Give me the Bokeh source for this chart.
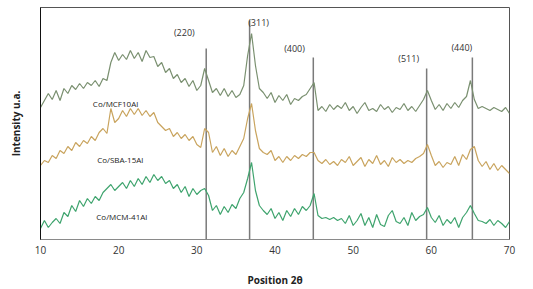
import numpy as np
from bokeh.plotting import figure
from bokeh.models import Range1d, FixedTicker
from bokeh.core.properties import value
from bokeh.embed import file_html
from bokeh.resources import INLINE

two_theta = np.arange(10.0, 70.01, 0.5)

mcf = [132, 139, 146, 140, 149, 139, 151, 146, 154, 150,
       156, 151, 157, 154, 159, 153, 161, 159, 177, 187,
       179, 185, 180, 189, 181, 187, 178, 189, 182, 183,
       173, 177, 167, 171, 161, 165, 157, 161, 153, 159,
       149, 154, 171, 159, 147, 151, 144, 151, 143, 149,
       142, 145, 154, 184, 206, 174, 151, 147, 141, 147,
       137, 144, 139, 145, 135, 141, 139, 143, 145, 151,
       157, 129, 133, 128, 135, 130, 134, 131, 137, 129,
       133, 126, 132, 137, 129, 131, 128, 135, 130, 133,
       127, 132, 130, 136, 129, 133, 128, 134, 140, 149,
       139, 130, 135, 129, 136, 131, 137, 132, 139, 143,
       159, 140, 131, 133, 131, 129, 132, 130, 128, 132,
       126]

sba = [74, 79, 77, 84, 81, 89, 86, 93, 89, 97,
       93, 99, 96, 103, 99, 107, 111, 106, 131, 117,
       121, 129, 123, 131, 125, 131, 124, 129, 123, 127,
       117, 113, 109, 111, 103, 107, 101, 105, 99, 103,
       95, 92, 111, 107, 87, 93, 84, 91, 83, 89,
       85, 93, 101, 121, 136, 109, 91, 87, 85, 89,
       79, 83, 77, 83, 79, 84, 81, 85, 83, 87,
       87, 79, 76, 80, 75, 78, 74, 80, 77, 83,
       74, 78, 82, 73, 80, 76, 84, 75, 79, 73,
       82, 77, 80, 76, 79, 77, 81, 83, 86, 95,
       84, 74, 78, 72, 77, 75, 83, 74, 85, 80,
       90, 93, 79, 73, 78, 70, 76, 69, 74, 70,
       66]

mcm = [11, 19, 12, 17, 21, 16, 27, 23, 34, 28,
       39, 33, 41, 36, 43, 39, 47, 51, 55, 49,
       53, 57, 51, 59, 53, 61, 55, 63, 57, 65,
       59, 63, 56, 59, 51, 55, 47, 53, 43, 51,
       45, 49, 51, 44, 29, 34, 25, 33, 27, 35,
       31, 41, 47, 61, 77, 49, 34, 29, 25, 31,
       21, 27, 19, 29, 23, 31, 25, 33, 29, 34,
       46, 24, 21, 22, 20, 22, 19, 21, 16, 24,
       14, 19, 26, 14, 22, 12, 25, 15, 13, 24,
       29, 18, 16, 22, 14, 27, 19, 23, 25, 32,
       22, 17, 24, 14, 20, 16, 22, 12, 22, 27,
       34, 26, 19, 18, 16, 20, 14, 19, 16, 12,
       18]

series_names = ["Co/MCF10Al", "Co/SBA-15Al", "Co/MCM-41Al"]
series_colors = ["#7a9070", "#c9a45e", "#3fa46e"]
name_x = [19.6, 20.2, 20.4]
name_y = [136, 80, 23]

peak_labels = ["(220)", "(311)", "(400)", "(511)", "(440)"]
peak_pos = [31.2, 36.75, 44.9, 59.4, 65.25]
peak_line_top = [191, 219, 182, 171, 182]
peak_label_x = [28.4, 37.9, 42.5, 57.1, 63.9]
peak_label_y = [207, 217, 191, 181, 192]

x_ticks = [10, 20, 30, 40, 50, 60, 70]

FONT = "Open Sans"

p = figure(width=533, height=289, output_backend="svg", toolbar_location=None,
           x_range=Range1d(10, 70), y_range=Range1d(0, 232),
           min_border_left=40, min_border_right=24, min_border_top=7,
           min_border_bottom=50)
p.grid.visible = False
p.background_fill_color = "white"
p.border_fill_color = "white"
p.outline_line_color = "#555555"
p.outline_line_width = 1

# vertical reference lines
p.segment(x0=peak_pos, y0=[0] * 5, x1=peak_pos, y1=peak_line_top,
          line_color="#7a7a7a", line_width=1.5)

for ys, c in zip([mcf, sba, mcm], series_colors):
    p.line(two_theta, ys, line_color=c, line_width=1.2)

p.text(x=peak_label_x, y=peak_label_y, text=peak_labels,
       text_font=value(FONT), text_font_size="9px", text_color="#333333",
       text_align="center", text_baseline="middle")
p.text(x=name_x, y=name_y, text=series_names,
       text_font=value(FONT), text_font_size="8px", text_color="#222222",
       text_align="center", text_baseline="middle")

xa = p.xaxis[0]
xa.ticker = FixedTicker(ticks=x_ticks)
xa.major_tick_line_color = None
xa.minor_tick_line_color = None
xa.major_tick_out = 0
xa.major_tick_in = 0
xa.major_label_standoff = 6
xa.axis_line_color = "#8a8a8a"
xa.major_label_text_font = FONT
xa.major_label_text_font_size = "10px"
xa.major_label_text_color = "#333333"
xa.axis_label = "Position 2θ"
xa.axis_label_text_font = FONT
xa.axis_label_text_font_size = "10px"
xa.axis_label_text_font_style = "bold"
xa.axis_label_text_color = "#222222"
xa.axis_label_standoff = 16

ya = p.yaxis[0]
ya.ticker = FixedTicker(ticks=[])
ya.major_tick_line_color = None
ya.minor_tick_line_color = None
ya.major_tick_out = 0
ya.major_tick_in = 0
ya.major_label_standoff = 0
ya.axis_line_color = "#111111"
ya.axis_label = "Intensity u.a."
ya.axis_label_text_font = FONT
ya.axis_label_text_font_size = "10px"
ya.axis_label_text_font_style = "bold"
ya.axis_label_text_color = "#222222"
ya.axis_label_standoff = 18

open("out.html", "w").write(file_html(p, INLINE))
